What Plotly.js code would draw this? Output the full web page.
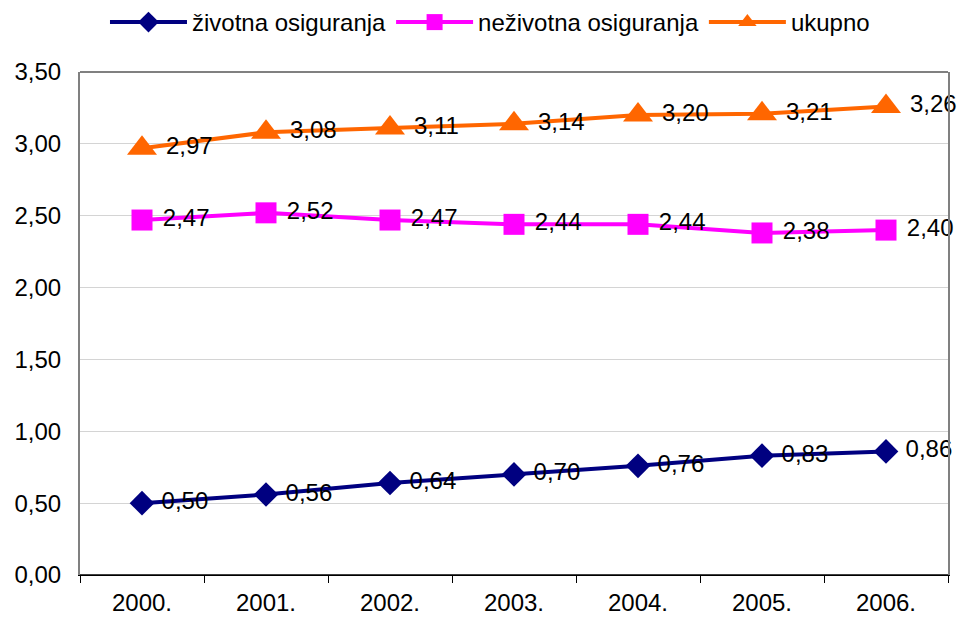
<!DOCTYPE html>
<html>
<head>
<meta charset="utf-8">
<script src="https://cdn.plot.ly/plotly-3.0.1.min.js"></script>
<style>html,body{margin:0;padding:0;background:#fff;}#chart{width:957px;height:623px;}</style>
</head>
<body>
<div id="chart"></div>
<script>
const years = ["2000.", "2001.", "2002.", "2003.", "2004.", "2005.", "2006."];
const zivotna = [0.50, 0.56, 0.64, 0.70, 0.76, 0.83, 0.86];
const nezivotna = [2.47, 2.52, 2.47, 2.44, 2.44, 2.38, 2.40];
const ukupno = [2.97, 3.08, 3.11, 3.14, 3.20, 3.21, 3.26];
const seriesNames = ["životna osiguranja", "neživotna osiguranja", "ukupno"];

const font = "Liberation Sans, Arial, sans-serif";
function tr(name, y, color, symbol, size) {
  return {
    type: "scatter", mode: "lines+markers+text", name: name,
    x: years, y: y,
    line: {color: color, width: 4},
    marker: {color: color, symbol: symbol, size: size},
    texttemplate: "\u00a0%{y:.2f}", textposition: "middle right",
    textfont: {family: font, size: 24, color: "#000"},
    cliponaxis: false
  };
}
const data = [
  tr(seriesNames[0], zivotna, "#000080", "diamond", 19),
  tr(seriesNames[1], nezivotna, "#ff00ff", "square", 21),
  tr(seriesNames[2], ukupno, "#ff6600", "triangle-up", 26)
];
const layout = {
  width: 957, height: 623,
  margin: {l: 80, r: 9, t: 72, b: 48},
  paper_bgcolor: "#fff", plot_bgcolor: "#fff",
  separators: ",.",
  font: {family: font, size: 24, color: "#000"},
  showlegend: true,
  legend: {orientation: "h", xref: "container", yref: "container", x: 0.512, xanchor: "center", y: 1.0, yanchor: "top",
           font: {family: font, size: 24}, itemwidth: 77, tracegroupgap: 0},
  xaxis: {type: "category", range: [-0.5, 6.5], showgrid: false,
          tickson: "boundaries", ticks: "outside", ticklen: 7, tickcolor: "#000",
          showline: true, linecolor: "#000", linewidth: 1, mirror: false,
          ticklabelstandoff: 6,
          tickfont: {family: font, size: 24}, zeroline: false},
  yaxis: {range: [0, 3.5], dtick: 0.5, tickformat: ".2f",
          showgrid: true, gridcolor: "#d4d4d4", gridwidth: 1,
          showline: true, linecolor: "#808080", linewidth: 2, mirror: true,
          ticks: "", ticklabelstandoff: 12, tickfont: {family: font, size: 24}, zeroline: false},
  shapes: [
    {type: "line", xref: "paper", yref: "paper", x0: 0, x1: 1, y0: 1, y1: 1, line: {color: "#808080", width: 2}},
    {type: "line", xref: "paper", yref: "paper", x0: 0, x1: 1, y0: 0, y1: 0, line: {color: "#000", width: 1.5}}
  ]
};
Plotly.newPlot("chart", data, layout, {displayModeBar: false});
</script>
</body>
</html>
